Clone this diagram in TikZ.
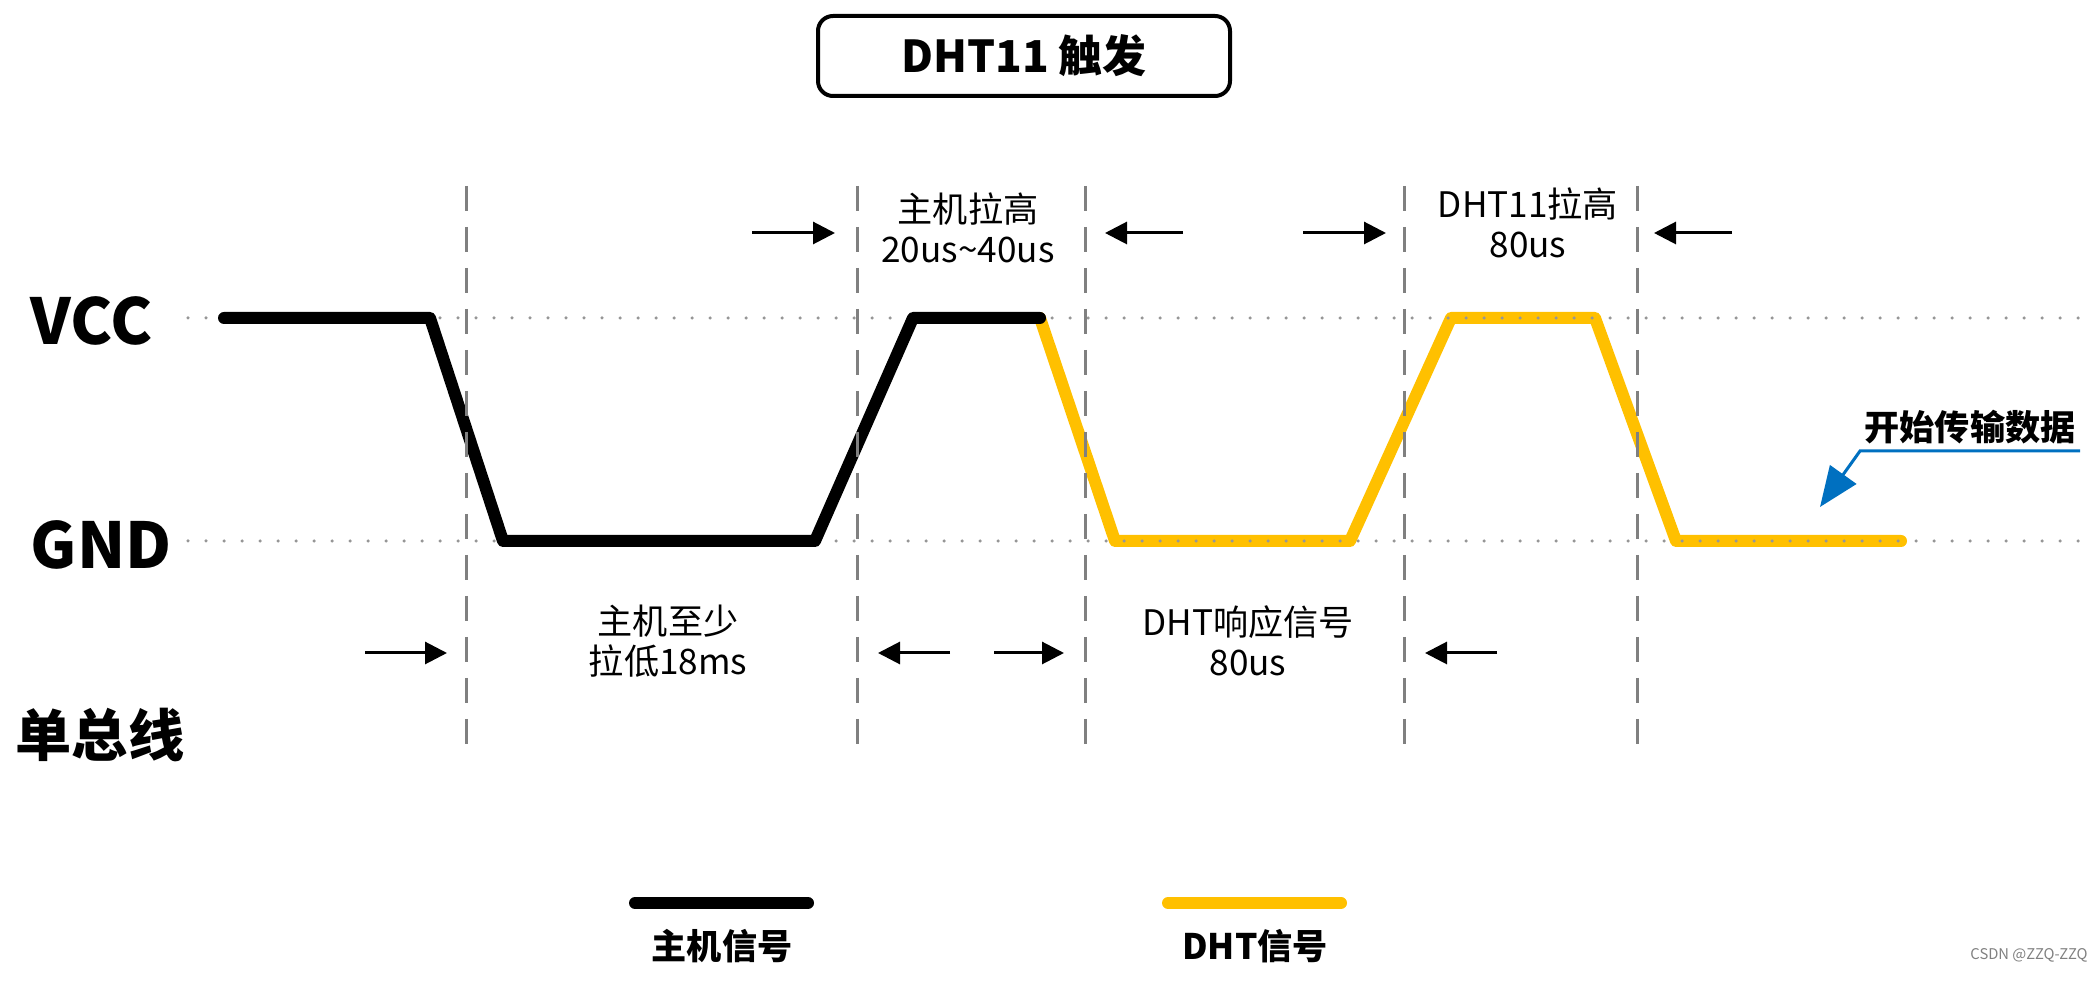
\documentclass[tikz,border=0pt]{standalone}
\usepackage{fontspec}
\setmainfont{Noto Sans CJK SC}
\usetikzlibrary{
  arrows.meta,
  positioning,
  calc
}
\definecolor{dhtyellow}{RGB}{255,192,0}
\definecolor{noteblue}{RGB}{0,112,192}
\definecolor{guidegray}{RGB}{128,128,128}
\definecolor{dotgray}{RGB}{150,150,150}

\tikzset{
  hostsig/.style={black, line width=1.2mm, line join=round, line cap=round},
  dhtsig/.style={dhtyellow, line width=1.2mm, line join=round, line cap=round},
  levelline/.style={dotgray, line width=0.35mm, line cap=round, dash pattern=on 0pt off 1.8mm},
  guide/.style={guidegray, line width=0.3mm, dash pattern=on 2.5mm off 1.6mm},
  timearrow/.style={-{Triangle[length=2.2mm, width=2.2mm]}, line width=0.3mm},
  timelabel/.style={align=center, font=\fontsize{10}{11.4}\selectfont},
  levellabel/.style={anchor=west, inner sep=0pt, font=\fontsize{18}{21}\selectfont\bfseries},
  keylabel/.style={font=\fontsize{10}{12}\selectfont\bfseries}
}

\begin{document}
\begin{tikzpicture}
\useasboundingbox (0,0) rectangle (20.92,9.81);

% -------------------------
% Title
% -------------------------
\node[draw, rounded corners=1.5mm, line width=0.4mm,
  minimum width=4.12cm, minimum height=0.8cm,
  font=\fontsize{12.5}{15}\selectfont\bfseries] (title) at (10.24,9.25) {DHT11 触发};

% -------------------------
% Level labels
% -------------------------
\node[levellabel] (vcc) at (0.30,6.60) {VCC};
\node[levellabel] (gnd) at (0.30,4.36) {GND};
\node[levellabel, font=\fontsize{16}{19}\selectfont\bfseries] (bus) at (0.15,2.46) {单总线};

% -------------------------
% Waveform
% -------------------------
% host part
\coordinate (h0) at (2.24,6.63);
\coordinate (h1) at (4.30,6.63);
\coordinate (h2) at (5.03,4.40);
\coordinate (h3) at (8.15,4.40);
\coordinate (h4) at (9.13,6.63);
\coordinate (h5) at (10.40,6.63);
% DHT part
\coordinate (d1) at (11.15,4.40);
\coordinate (d2) at (13.50,4.40);
\coordinate (d3) at (14.51,6.63);
\coordinate (d4) at (15.95,6.63);
\coordinate (d5) at (16.76,4.40);
\coordinate (d6) at (19.01,4.40);

\draw[dhtsig]  (h5) -- (d1) -- (d2) -- (d3) -- (d4) -- (d5) -- (d6);

% dotted levels
\coordinate (vccL) at (1.88,6.63);
\coordinate (vccR) at (20.81,6.63);
\coordinate (gndL) at (1.88,4.40);
\coordinate (gndR) at (20.81,4.40);
\draw[levelline] (vccL) -- (vccR);
\draw[levelline] (gndL) -- (gndR);

\draw[hostsig] (h0) -- (h1) -- (h2) -- (h3) -- (h4) -- (h5);

% -------------------------
% Timing guides
% -------------------------
\foreach \g/\x in {1/4.66, 2/8.57, 3/10.85, 4/14.04, 5/16.37}{
  \coordinate (g\g top) at (\x,7.95);
  \coordinate (g\g bot) at (\x,2.37);
  \draw[guide] (g\g top) -- (g\g bot);
}

\foreach \a/\from/\to/\y in {1/7.52/8.35/7.48, 2/11.83/11.05/7.48,
    3/13.03/13.86/7.48, 4/17.32/16.54/7.48, 5/3.65/4.47/3.28,
    6/9.50/8.78/3.28, 7/9.94/10.64/3.28, 8/14.97/14.25/3.28}{
  \coordinate (a\a s) at (\from,\y);
  \coordinate (a\a e) at (\to,\y);
  \draw[timearrow] (a\a s) -- (a\a e);
}

\node[timelabel] (hostHigh) at (9.68,7.53)  {主机拉高\\20us\textasciitilde40us};
\node[timelabel] (dhtHigh)  at (15.28,7.58) {DHT11拉高\\80us};
\node[timelabel] (hostLow)  at (6.68,3.40)  {主机至少\\拉低18ms};
\node[timelabel] (dhtResp)  at (12.48,3.40) {DHT响应信号\\80us};

% -------------------------
% Data note
% -------------------------
\node[keylabel] (dataNote) at (19.70,5.54) {开始传输数据};
\coordinate (noteR)   at (20.80,5.30);
\coordinate (noteK)   at (18.60,5.30);
\coordinate (noteTip) at (18.20,4.74);
\draw[noteblue, line width=0.3mm, -{Triangle[length=4mm, width=3.2mm]}]
  (noteR) -- (noteK) -- (noteTip);

% -------------------------
% Legend
% -------------------------
\node[keylabel] (hostKey) at (7.22,0.35)  {主机信号};
\node[keylabel] (dhtKey)  at (12.55,0.35) {DHT信号};
\coordinate (hostKeyL) at (6.35,0.78);
\coordinate (hostKeyR) at (8.08,0.78);
\coordinate (dhtKeyL)  at (11.68,0.78);
\coordinate (dhtKeyR)  at (13.41,0.78);
\draw[hostsig] (hostKeyL) -- (hostKeyR);
\draw[dhtsig]  (dhtKeyL) -- (dhtKeyR);

\node[font=\fontsize{4.2}{5}\selectfont, text=gray] (mark) at (20.29,0.26) {CSDN @ZZQ-ZZQ};

\end{tikzpicture}
\end{document}
